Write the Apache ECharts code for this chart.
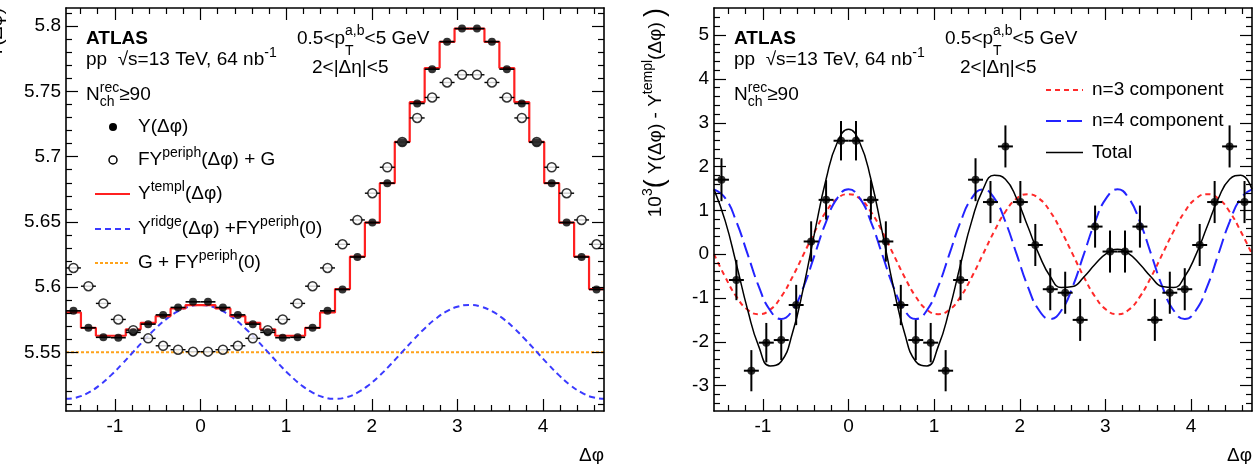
<!DOCTYPE html>
<html><head><meta charset="utf-8">
<script src="https://cdn.jsdelivr.net/npm/echarts@6/dist/echarts.min.js"></script>
<style>html,body{margin:0;padding:0;background:#fff}#c{width:1259px;height:464px}</style>
</head><body><div id="c"></div>
<script>
// ---------------- DATA ----------------
const binCenters = [-1.4835,-1.3090,-1.1345,-0.9599,-0.7854,-0.6109,-0.4363,-0.2618,-0.0873,0.0873,0.2618,0.4363,0.6109,0.7854,0.9599,1.1345,1.3090,1.4835,
  1.6581,1.8326,2.0071,2.1817,2.3562,2.5307,2.7053,2.8798,3.0543,3.2289,3.4034,3.5779,3.7525,3.9270,4.1015,4.2761,4.4506,4.6251];
const yData = [5.5818,5.5688,5.5615,5.5612,5.5653,5.5716,5.5787,5.5844,5.5887,5.5887,5.5844,5.5787,5.5716,5.5653,5.5612,5.5615,5.5688,5.5818,
  5.5982,5.6231,5.6495,5.6797,5.7110,5.7408,5.7671,5.7882,5.7982,5.7982,5.7882,5.7671,5.7408,5.7110,5.6797,5.6495,5.6231,5.5982];
const yPeriph = [5.6147,5.6007,5.5875,5.5752,5.5670,5.5607,5.5550,5.5520,5.5505,5.5505,5.5520,5.5550,5.5607,5.5670,5.5752,5.5875,5.6007,5.6147,
  5.6328,5.6515,5.6720,5.6919,5.7112,5.7297,5.7454,5.7569,5.7628,5.7628,5.7569,5.7454,5.7297,5.7112,5.6919,5.6720,5.6515,5.6328];
const yTempl = [5.5806,5.5688,5.5627,5.5627,5.5676,5.5726,5.5778,5.5836,5.5862,5.5862,5.5836,5.5778,5.5726,5.5676,5.5627,5.5627,5.5688,5.5806,
  5.5985,5.6233,5.6495,5.6797,5.7113,5.7418,5.7680,5.7880,5.7982,5.7982,5.7880,5.7680,5.7418,5.7113,5.6797,5.6495,5.6233,5.5985];
const curveX = [-1.5708,-1.4399,-1.3090,-1.1781,-1.0472,-0.9163,-0.7854,-0.6545,-0.5236,-0.3927,-0.2618,-0.1309,0,0.1309,0.2618,0.3927,0.5236,0.6545,0.7854,0.9163,1.0472,1.1781,1.3090,1.4399,
  1.5708,1.7017,1.8326,1.9635,2.0944,2.2253,2.3562,2.4871,2.6180,2.7489,2.8798,3.0107,3.1416,3.2725,3.4034,3.5343,3.6652,3.7961,3.9270,4.0579,4.1888,4.3197,4.4506,4.5815,4.7124];
const ridgeCurve = [5.5143,5.5155,5.5191,5.5248,5.5323,5.5410,5.5503,5.5596,5.5683,5.5758,5.5815,5.5851,5.5863,5.5851,5.5815,5.5758,5.5683,5.5596,5.5503,5.5410,5.5323,5.5248,5.5191,5.5155,
  5.5143,5.5155,5.5191,5.5248,5.5323,5.5410,5.5503,5.5596,5.5683,5.5758,5.5815,5.5851,5.5863,5.5851,5.5815,5.5758,5.5683,5.5596,5.5503,5.5410,5.5323,5.5248,5.5191,5.5155,5.5143];
const pedestal = [5.5500, 5.5500];   // G + FY^periph(0), drawn across the full range
const residual = [1.70,-0.59,-2.66,-2.02,-1.96,-1.16,0.29,1.24,2.59,2.59,1.24,0.29,-1.16,-1.96,-2.02,-2.66,-0.59,1.70,
  1.19,2.46,1.19,0.21,-0.80,-0.88,-1.50,0.63,0.06,0.06,0.63,-1.50,-0.88,-0.80,0.21,1.19,2.46,1.19];
const residualErr = [0.49,0.46,0.47,0.45,0.46,0.46,0.46,0.45,0.45,0.45,0.45,0.46,0.46,0.46,0.45,0.47,0.46,0.49,
  0.48,0.48,0.48,0.48,0.48,0.48,0.48,0.48,0.48,0.48,0.48,0.48,0.48,0.48,0.48,0.48,0.48,0.48];
const n3Curve = [0,-0.52,-0.97,-1.27,-1.37,-1.27,-0.97,-0.52,0,0.52,0.97,1.27,1.37,1.27,0.97,0.52,0,-0.52,-0.97,-1.27,-1.37,-1.27,-0.97,-0.52,
  0,0.52,0.97,1.27,1.37,1.27,0.97,0.52,0,-0.52,-0.97,-1.27,-1.37,-1.27,-0.97,-0.52,0,0.52,0.97,1.27,1.37,1.27,0.97,0.52,0];
const n4Curve = [1.48,1.28,0.74,0,-0.74,-1.28,-1.48,-1.28,-0.74,0,0.74,1.28,1.48,1.28,0.74,0,-0.74,-1.28,-1.48,-1.28,-0.74,0,0.74,1.28,
  1.48,1.28,0.74,0,-0.74,-1.28,-1.48,-1.28,-0.74,0,0.74,1.28,1.48,1.28,0.74,0,-0.74,-1.28,-1.48,-1.28,-0.74,0,0.74,1.28,1.48];
const totalCurve = [1.48,0.76,-0.23,-1.27,-2.11,-2.55,-2.45,-1.80,-0.74,0.52,1.71,2.55,2.85,2.55,1.71,0.52,-0.74,-1.80,-2.45,-2.55,-2.11,-1.27,-0.23,0.76,
  1.48,1.80,1.71,1.27,0.63,-0.01,-0.51,-0.76,-0.74,-0.52,-0.23,0.01,0.11,0.01,-0.23,-0.52,-0.74,-0.76,-0.51,-0.01,0.63,1.27,1.71,1.80,1.48];
const xMajorTicks = [-1,0,1,2,3,4];
const xMinorTicks = [-1.4,-1.2,-0.8,-0.6,-0.4,-0.2,0.2,0.4,0.6,0.8,1.2,1.4,1.6,1.8,2.2,2.4,2.6,2.8,3.2,3.4,3.6,3.8,4.2,4.4,4.6];
const yLeftMajor = [5.55,5.6,5.65,5.7,5.75,5.8];
const yLeftMinor = [5.51,5.52,5.53,5.54,5.56,5.57,5.58,5.59,5.61,5.62,5.63,5.64,5.66,5.67,5.68,5.69,5.71,5.72,5.73,5.74,5.76,5.77,5.78,5.79,5.81];
const yRightMajor = [-3,-2,-1,0,1,2,3,4,5];
const yRightMinor = [-3.4,-3.2,-2.8,-2.6,-2.4,-2.2,-1.8,-1.6,-1.4,-1.2,-0.8,-0.6,-0.4,-0.2,0.2,0.4,0.6,0.8,1.2,1.4,1.6,1.8,2.2,2.4,2.6,2.8,3.2,3.4,3.6,3.8,4.2,4.4,4.6,4.8,5.2,5.4];

// ---------------- STYLE / LAYOUT ----------------
const PI = Math.PI;
const binHalf = PI / 36;
const FF = '"Liberation Sans", Arial, Helvetica, sans-serif';
const MAIN = 19, SMALL = 14, SUPDY = -7, SUBDY = 7;
const cv = document.createElement('canvas').getContext('2d');
function fnt(s, b) { return (b ? 'bold ' : '') + s + 'px ' + FF; }
function tw(t, s, b) { cv.font = fnt(s, b); return cv.measureText(t).width; }
function txt(x, y, t, s, b, align) {
  return { type: 'text', silent: true, x: x, y: y, z: 100,
    style: { text: t, font: fnt(s, b), fill: '#000', align: align || 'left', verticalAlign: 'middle',
             textAlign: align || 'left', textVerticalAlign: 'middle' } };
}
function run(x0, yc, parts) {
  const els = []; let x = x0;
  parts.forEach(p => {
    if (typeof p === 'string') p = { t: p };
    if (p.sup !== undefined || p.sub !== undefined) {
      let w = 0;
      if (p.sup) { els.push(txt(x, yc + (p.supDy || SUPDY), p.sup, SMALL)); w = Math.max(w, tw(p.sup, SMALL)); }
      if (p.sub) { els.push(txt(x, yc + (p.subDy || SUBDY), p.sub, SMALL)); w = Math.max(w, tw(p.sub, SMALL)); }
      x += w;
    } else {
      const s = p.s || MAIN;
      els.push(txt(x, yc + (p.dy || 0), p.t, s, p.bold));
      x += tw(p.t, s, p.bold);
    }
  });
  return { els: els, width: x - x0 };
}

function mkAxes(dim, grid, min, max, major, minor, fmt, labelMargin) {
  const pos = dim === 'x' ? ['bottom', 'top'] : ['left', 'right'];
  const base = (position, ticks, len, withLine, withLabel) => ({
    type: 'value', gridIndex: grid, position: position, min: min, max: max, z: 20,
    axisLine: { show: withLine, onZero: false, lineStyle: { color: '#000', width: 1.6 } },
    axisTick: { show: true, inside: true, length: len, customValues: ticks, lineStyle: { color: '#000', width: 1.2 } },
    axisLabel: withLabel ? { show: true, customValues: major, formatter: fmt, color: '#000', fontSize: MAIN, fontFamily: FF, margin: labelMargin }
                         : { show: false },
    splitLine: { show: false }, axisPointer: { show: false }
  });
  return [base(pos[0], major, 12, true, true), base(pos[0], minor, 6, false, false),
          base(pos[1], major, 12, true, false), base(pos[1], minor, 6, false, false)];
}
const numFmt = v => String(parseFloat(Number(v).toFixed(3)));

const xMin = curveX[0], xMax = curveX[curveX.length - 1];
const xAxes = [].concat(
  mkAxes('x', 0, xMin, xMax, xMajorTicks, xMinorTicks, numFmt, 6),
  mkAxes('x', 1, xMin, xMax, xMajorTicks, xMinorTicks, numFmt, 6));
const yAxes = [].concat(
  mkAxes('y', 0, 5.505, 5.814, yLeftMajor, yLeftMinor, numFmt, 5),
  mkAxes('y', 1, -3.58, 5.62, yRightMajor, yRightMinor, numFmt, 5));

function errRender(color, w) {
  return function (params, api) {
    const x = api.value(0), y = api.value(1), ex = api.value(2), ey = api.value(3);
    const ch = [];
    if (ex > 0) {
      const a = api.coord([x - ex, y]), b = api.coord([x + ex, y]);
      ch.push({ type: 'line', shape: { x1: a[0], y1: a[1], x2: b[0], y2: b[1] }, style: { stroke: color, lineWidth: w } });
    }
    if (ey > 0) {
      const a = api.coord([x, y - ey]), b = api.coord([x, y + ey]);
      ch.push({ type: 'line', shape: { x1: a[0], y1: a[1], x2: b[0], y2: b[1] }, style: { stroke: color, lineWidth: w } });
    }
    return { type: 'group', children: ch };
  };
}

const stepData = [];
binCenters.forEach((c, i) => { stepData.push([c - binHalf, yTempl[i]], [c + binHalf, yTempl[i]]); });
const pairs = (xs, ys) => xs.map((x, i) => [x, ys[i]]);

const series = [
  // ---- left panel ----
  { type: 'line', xAxisIndex: 0, yAxisIndex: 0, data: [[xMin, pedestal[0]], [xMax, pedestal[1]]], symbol: 'none',
    lineStyle: { color: '#ffa31a', width: 2, type: [3, 2] }, z: 2 },
  { type: 'line', xAxisIndex: 0, yAxisIndex: 0, data: pairs(curveX, ridgeCurve), smooth: 0.5, symbol: 'none',
    lineStyle: { color: '#3a3aff', width: 2, type: [6, 4] }, z: 2 },
  { type: 'line', xAxisIndex: 0, yAxisIndex: 0, data: stepData, symbol: 'none',
    lineStyle: { color: '#ff2020', width: 2.2 }, z: 3 },
  { type: 'custom', xAxisIndex: 0, yAxisIndex: 0, renderItem: errRender('#000', 1.4), encode: { x: 0, y: 1 },
    data: binCenters.map((c, i) => [c, yPeriph[i], binHalf, 0]), z: 4 },
  { type: 'custom', xAxisIndex: 0, yAxisIndex: 0, renderItem: errRender('#000', 1.6), encode: { x: 0, y: 1 },
    data: binCenters.map((c, i) => [c, yData[i], binHalf, 0]), z: 4 },
  { type: 'scatter', xAxisIndex: 0, yAxisIndex: 0, data: pairs(binCenters, yPeriph), symbol: 'circle', symbolSize: 9,
    itemStyle: { color: '#fff', borderColor: '#000', borderWidth: 1.5 }, z: 5 },
  { type: 'scatter', xAxisIndex: 0, yAxisIndex: 0, data: pairs(binCenters, yData), symbol: 'circle', symbolSize: 8,
    itemStyle: { color: '#000' }, z: 6 },
  // ---- right panel ----
  { type: 'line', xAxisIndex: 4, yAxisIndex: 4, data: pairs(curveX, n3Curve), smooth: 0.5, symbol: 'none',
    lineStyle: { color: '#ff2a2a', width: 2, type: [5, 4] }, z: 2 },
  { type: 'line', xAxisIndex: 4, yAxisIndex: 4, data: pairs(curveX, n4Curve), smooth: 0.5, symbol: 'none',
    lineStyle: { color: '#2323ff', width: 2, type: [15, 6] }, z: 2 },
  { type: 'line', xAxisIndex: 4, yAxisIndex: 4, data: pairs(curveX, totalCurve), smooth: 0.5, symbol: 'none',
    lineStyle: { color: '#000', width: 1.5 }, z: 3 },
  { type: 'custom', xAxisIndex: 4, yAxisIndex: 4, renderItem: errRender('#000', 2), encode: { x: 0, y: 1 },
    data: binCenters.map((c, i) => [c, residual[i], binHalf, residualErr[i]]), z: 4 },
  { type: 'scatter', xAxisIndex: 4, yAxisIndex: 4, data: pairs(binCenters, residual), symbol: 'circle', symbolSize: 8,
    itemStyle: { color: '#000' }, z: 5 }
];

// ---------------- TEXT / LEGENDS ----------------
const graphics = [];
const add = r => { r.els.forEach(e => graphics.push(e)); return r; };
[0, 648].forEach(ox => {
  add(run(86 + ox, 39, [{ t: 'ATLAS', bold: true }]));
  add(run(86 + ox, 60, ['pp  \u221As=13 TeV, 64 nb', { sup: '-1' }]));
  add(run(86 + ox, 95, ['N', { sup: 'rec', sub: 'ch' }, '\u226590']));
  add(run(297 + ox, 39, ['0.5<p', { sup: 'a,b', sub: 'T', supDy: -8, subDy: 12 }, '<5 GeV']));
  add(run(312 + ox, 67.5, ['2<|\u0394\u03B7|<5']));
});
// left legend
add(run(138, 127, ['Y(\u0394\u03C6)']));
add(run(138, 160, ['FY', { sup: 'periph' }, '(\u0394\u03C6) + G']));
add(run(138, 194, ['Y', { sup: 'templ' }, '(\u0394\u03C6)']));
add(run(138, 229, ['Y', { sup: 'ridge' }, '(\u0394\u03C6) +FY', { sup: 'periph' }, '(0)']));
add(run(138, 263, ['G + FY', { sup: 'periph' }, '(0)']));
graphics.push({ type: 'circle', silent: true, z: 100, shape: { cx: 113, cy: 127, r: 4 }, style: { fill: '#000' } });
graphics.push({ type: 'circle', silent: true, z: 100, shape: { cx: 113, cy: 160, r: 4 }, style: { fill: '#fff', stroke: '#000', lineWidth: 1.5 } });
graphics.push({ type: 'line', silent: true, z: 100, shape: { x1: 95, y1: 194, x2: 130, y2: 194 }, style: { stroke: '#ff2020', lineWidth: 2 } });
graphics.push({ type: 'line', silent: true, z: 100, shape: { x1: 95, y1: 229, x2: 130, y2: 229 }, style: { stroke: '#3a3aff', lineWidth: 2, lineDash: [6, 4] } });
graphics.push({ type: 'line', silent: true, z: 100, shape: { x1: 95, y1: 263, x2: 130, y2: 263 }, style: { stroke: '#ffa31a', lineWidth: 2, lineDash: [3, 2] } });
// right legend
add(run(1092, 90, ['n=3 component']));
add(run(1092, 121, ['n=4 component']));
add(run(1092, 152.5, ['Total']));
graphics.push({ type: 'line', silent: true, z: 100, shape: { x1: 1046, y1: 90, x2: 1083, y2: 90 }, style: { stroke: '#ff2a2a', lineWidth: 2, lineDash: [5, 4] } });
graphics.push({ type: 'line', silent: true, z: 100, shape: { x1: 1046, y1: 121, x2: 1083, y2: 121 }, style: { stroke: '#2323ff', lineWidth: 2, lineDash: [15, 6] } });
graphics.push({ type: 'line', silent: true, z: 100, shape: { x1: 1046, y1: 152.5, x2: 1083, y2: 152.5 }, style: { stroke: '#000', lineWidth: 1.5 } });
// x-axis titles
graphics.push(txt(604, 456, '\u0394\u03C6', MAIN, false, 'right'));
graphics.push(txt(1252, 456, '\u0394\u03C6', MAIN, false, 'right'));
// rotated y titles
const rTitle = run(0, 0, ['10', { sup: '3' }, { t: '(', s: 27 }, ' Y(\u0394\u03C6) - Y', { sup: 'templ' }, '(\u0394\u03C6) ', { t: ')', s: 27 }]);
graphics.push({ type: 'group', x: 655.5, y: 8 + rTitle.width, rotation: PI / 2, children: rTitle.els });
const lTitle = run(0, 0, ['Y(\u0394\u03C6)']);
graphics.push({ type: 'group', x: -3.5, y: 8 + lTitle.width, rotation: PI / 2, children: lTitle.els });

const chart = echarts.init(document.getElementById('c'), null, { renderer: 'canvas' });
chart.setOption({
  animation: false,
  backgroundColor: '#fff',
  grid: [
    { left: 66, top: 8, width: 538, height: 403, containLabel: false },
    { left: 714, top: 8, width: 538, height: 403, containLabel: false }
  ],
  xAxis: xAxes,
  yAxis: yAxes,
  series: series,
  graphic: { elements: graphics }
});
</script>
</body></html>
